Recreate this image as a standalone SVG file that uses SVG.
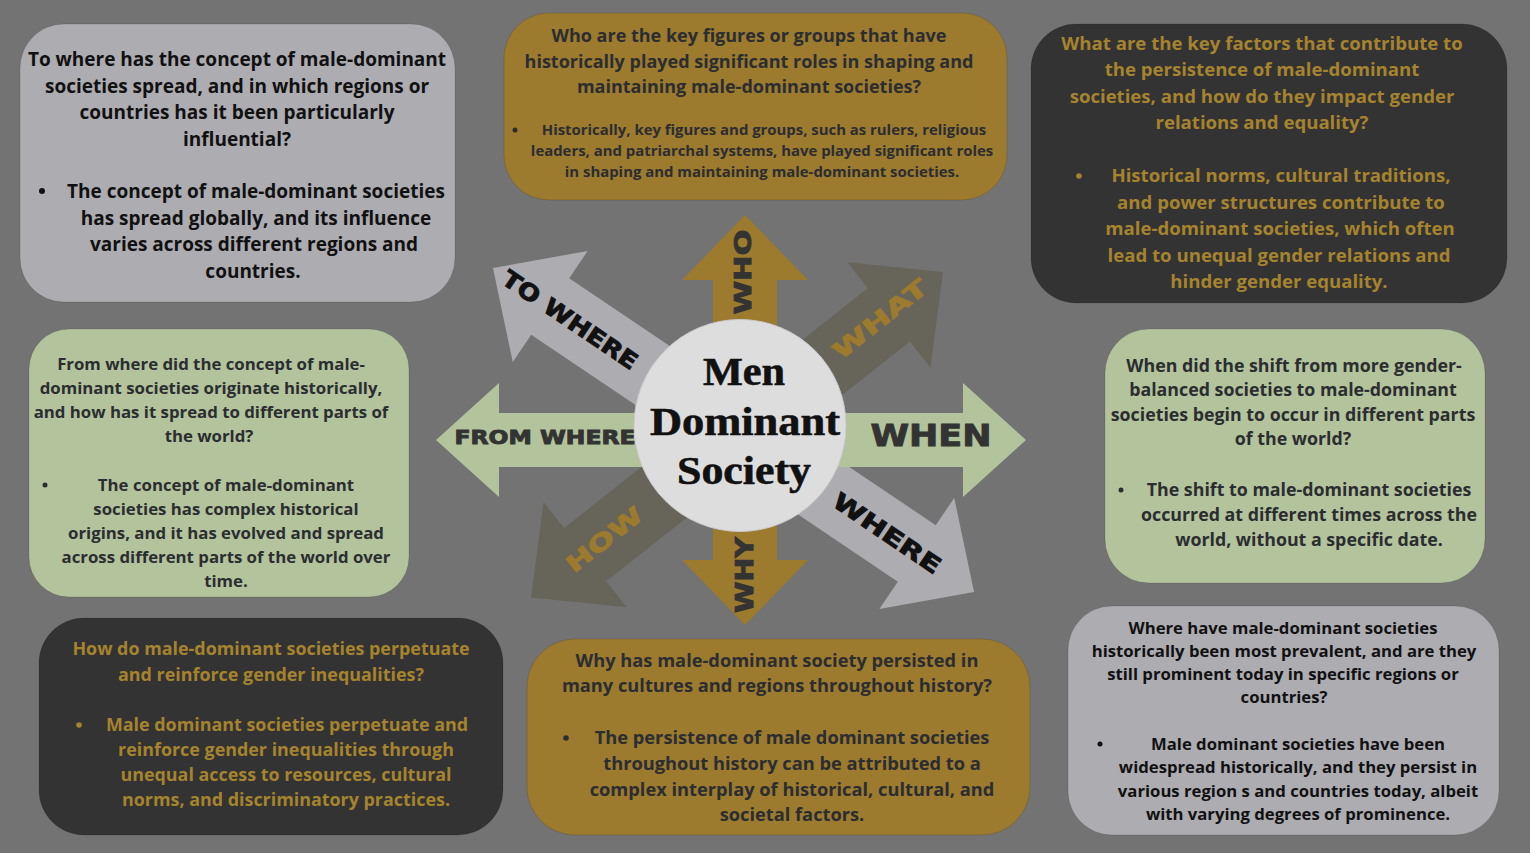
<svg xmlns="http://www.w3.org/2000/svg" width="1530" height="853" viewBox="0 0 1530 853">
  <style>
    .bg { fill: #737373; }
    .box { stroke: rgba(0,0,0,0.12); stroke-width: 1; }
    .lilac { fill: #adacb1; }
    .gold { fill: #9c7a2e; }
    .dark { fill: #333333; }
    .sage { fill: #b3c39b; }
    .olive { fill: #67645a; }
    .t { font-family: "Open Sans", "Liberation Sans", sans-serif; font-weight: 700; text-anchor: middle; }
    .tk { fill: #111111; }
    .td { fill: #2b2d31; }
    .tg { fill: #a5832f; }
    .lab { font-family: "DejaVu Sans", "Liberation Sans", sans-serif; font-weight: 700; text-anchor: middle; stroke-width: 0.9; }
    .hub { font-family: "Liberation Serif", "DejaVu Serif", serif; font-weight: 700; text-anchor: middle; fill: #111111; stroke: #111111; stroke-width: 0.6; font-size: 40px; }
  </style>

  <rect class="bg" x="0" y="0" width="1530" height="853"/>

  <!-- connectors: double-headed arrows radiating from the hub -->
  <g id="connectors">
    <!-- to where / where diagonal -->
    <g transform="translate(733.5 430) rotate(33.96)">
      <path class="lilac" d="M -290 0 L -221 -67 L -221 -34 L 221 -34 L 221 -67 L 290 0 L 221 67 L 221 34 L -221 34 L -221 67 Z"/>
      <text class="lab" x="-197" y="8" font-size="23" fill="#111111" stroke="#111111" textLength="158" lengthAdjust="spacingAndGlyphs">TO WHERE</text>
      <text class="lab" x="185" y="8" font-size="23" fill="#111111" stroke="#111111" textLength="125" lengthAdjust="spacingAndGlyphs">WHERE</text>
    </g>
    <!-- what / how diagonal -->
    <g transform="translate(737 434.75) rotate(-38.3)">
      <path class="olive" d="M -262.5 0 L -193.5 -67 L -193.5 -34 L 193.5 -34 L 193.5 -67 L 262.5 0 L 193.5 67 L 193.5 34 L -193.5 34 L -193.5 67 Z"/>
      <text class="lab" x="184" y="6" font-size="23" fill="#9c7a2e" stroke="#9c7a2e" textLength="113" lengthAdjust="spacingAndGlyphs">WHAT</text>
      <text class="lab" x="-169" y="8" font-size="23" fill="#9c7a2e" stroke="#9c7a2e" textLength="90" lengthAdjust="spacingAndGlyphs">HOW</text>
    </g>
    <!-- from where / when horizontal -->
    <g transform="translate(731 440)">
      <path class="sage" d="M -295 0 L -232 -57 L -232 -27 L 232 -27 L 232 -57 L 295 0 L 232 57 L 232 27 L -232 27 L -232 57 Z"/>
      <text class="lab" x="-186" y="4" font-size="19" fill="#333333" stroke="#333333" textLength="181" lengthAdjust="spacingAndGlyphs">FROM WHERE</text>
      <text class="lab" x="200" y="6" font-size="30" fill="#333333" stroke="#333333" textLength="121" lengthAdjust="spacingAndGlyphs">WHEN</text>
    </g>
    <!-- who / why vertical -->
    <g transform="translate(745 420) rotate(90)">
      <path class="gold" d="M -205 0 L -140 -63 L -140 -32 L 140 -32 L 140 -63 L 205 0 L 140 63 L 140 32 L -140 32 L -140 63 Z"/>
    </g>
    <text class="lab" transform="translate(743 272) rotate(-90)" x="0" y="8" font-size="23" fill="#333333" stroke="#333333" textLength="85" lengthAdjust="spacingAndGlyphs">WHO</text>
    <text class="lab" transform="translate(745 575) rotate(-90)" x="0" y="8" font-size="24" fill="#333333" stroke="#333333" textLength="76" lengthAdjust="spacingAndGlyphs">WHY</text>
  </g>

  <!-- central hub -->
  <g id="hub">
    <circle cx="740" cy="425.5" r="106" fill="#dddddd" stroke="#c9c9c9" stroke-width="1"/>
    <text class="hub" x="744" y="385" textLength="82" lengthAdjust="spacingAndGlyphs">Men</text>
    <text class="hub" x="745" y="435" textLength="190" lengthAdjust="spacingAndGlyphs">Dominant</text>
    <text class="hub" x="744" y="484" textLength="134" lengthAdjust="spacingAndGlyphs">Society</text>
  </g>

  <!-- to where -->
  <g id="node-to-where">
    <rect class="box lilac" x="20" y="24" width="435" height="278" rx="44"/>
    <g class="t tk" font-size="19">
      <text x="237" y="66">To where has the concept of male-dominant</text>
      <text x="237" y="93">societies spread, and in which regions or</text>
      <text x="237" y="119">countries has it been particularly</text>
      <text x="237" y="146">influential?</text>
      <text x="256" y="198">The concept of male-dominant societies</text>
      <text x="256" y="225">has spread globally, and its influence</text>
      <text x="254" y="251">varies across different regions and</text>
      <text x="253" y="278">countries.</text>
    </g>
    <circle cx="42" cy="191" r="3" fill="#111111"/>
  </g>

  <!-- who -->
  <g id="node-who">
    <rect class="box gold" x="504" y="13" width="503" height="187" rx="45"/>
    <g class="t td" font-size="18">
      <text x="749" y="42">Who are the key figures or groups that have</text>
      <text x="749" y="68">historically played significant roles in shaping and</text>
      <text x="749" y="93">maintaining male-dominant societies?</text>
    </g>
    <g class="t td" font-size="14.9">
      <text x="764" y="135">Historically, key figures and groups, such as rulers, religious</text>
      <text x="762" y="156">leaders, and patriarchal systems, have played significant roles</text>
      <text x="762" y="177">in shaping and maintaining male-dominant societies.</text>
    </g>
    <circle cx="515" cy="130" r="2.5" fill="#2b2d31"/>
  </g>

  <!-- what -->
  <g id="node-what">
    <rect class="box dark" x="1031" y="24" width="476" height="279" rx="45"/>
    <g class="t tg" font-size="18.6">
      <text x="1262" y="50">What are the key factors that contribute to</text>
      <text x="1262" y="76">the persistence of male-dominant</text>
      <text x="1262" y="103">societies, and how do they impact gender</text>
      <text x="1262" y="129">relations and equality?</text>
      <text x="1281" y="182">Historical norms, cultural traditions,</text>
      <text x="1281" y="209">and power structures contribute to</text>
      <text x="1280" y="235">male-dominant societies, which often</text>
      <text x="1279" y="262">lead to unequal gender relations and</text>
      <text x="1279" y="288">hinder gender equality.</text>
    </g>
    <circle cx="1079" cy="176" r="2.8" fill="#a5832f"/>
  </g>

  <!-- from where -->
  <g id="node-from-where">
    <rect class="box sage" x="29" y="329" width="380" height="268" rx="40"/>
    <g class="t td" font-size="16.8">
      <text x="211" y="370">From where did the concept of male-</text>
      <text x="211" y="394">dominant societies originate historically,</text>
      <text x="211" y="418">and how has it spread to different parts of</text>
      <text x="209" y="442">the world?</text>
      <text x="226" y="491">The concept of male-dominant</text>
      <text x="226" y="515">societies has complex historical</text>
      <text x="226" y="539">origins, and it has evolved and spread</text>
      <text x="226" y="563">across different parts of the world over</text>
      <text x="226" y="587">time.</text>
    </g>
    <circle cx="45" cy="485" r="2.5" fill="#2b2d31"/>
  </g>

  <!-- when -->
  <g id="node-when">
    <rect class="box sage" x="1105" y="329" width="380" height="254" rx="44"/>
    <g class="t td" font-size="17.8">
      <text x="1294" y="372">When did the shift from more gender-</text>
      <text x="1293" y="396">balanced societies to male-dominant</text>
      <text x="1293" y="421">societies begin to occur in different parts</text>
      <text x="1293" y="445">of the world?</text>
      <text x="1309" y="496">The shift to male-dominant societies</text>
      <text x="1309" y="521">occurred at different times across the</text>
      <text x="1309" y="546">world, without a specific date.</text>
    </g>
    <circle cx="1121" cy="490" r="2.5" fill="#2b2d31"/>
  </g>

  <!-- how -->
  <g id="node-how">
    <rect class="box dark" x="39" y="618" width="464" height="217" rx="45"/>
    <g class="t tg" font-size="17.9">
      <text x="271" y="655">How do male-dominant societies perpetuate</text>
      <text x="271" y="681">and reinforce gender inequalities?</text>
      <text x="287" y="731">Male dominant societies perpetuate and</text>
      <text x="286" y="756">reinforce gender inequalities through</text>
      <text x="286" y="781">unequal access to resources, cultural</text>
      <text x="286" y="806">norms, and discriminatory practices.</text>
    </g>
    <circle cx="79" cy="725" r="2.8" fill="#a5832f"/>
  </g>

  <!-- why -->
  <g id="node-why">
    <rect class="box gold" x="527" y="639" width="503" height="196" rx="48"/>
    <g class="t td" font-size="18.25">
      <text x="777" y="667">Why has male-dominant society persisted in</text>
      <text x="777" y="692">many cultures and regions throughout history?</text>
      <text x="792" y="744">The persistence of male dominant societies</text>
      <text x="792" y="770">throughout history can be attributed to a</text>
      <text x="792" y="796">complex interplay of historical, cultural, and</text>
      <text x="792" y="821">societal factors.</text>
    </g>
    <circle cx="566" cy="738" r="2.8" fill="#2b2d31"/>
  </g>

  <!-- where -->
  <g id="node-where">
    <rect class="box lilac" x="1068" y="606" width="431" height="229" rx="44"/>
    <g class="t tk" font-size="16.7">
      <text x="1283" y="634">Where have male-dominant societies</text>
      <text x="1284" y="657">historically been most prevalent, and are they</text>
      <text x="1283" y="680">still prominent today in specific regions or</text>
      <text x="1284" y="703">countries?</text>
      <text x="1298" y="750">Male dominant societies have been</text>
      <text x="1298" y="773">widespread historically, and they persist in</text>
      <text x="1298" y="797">various region s and countries today, albeit</text>
      <text x="1298" y="820">with varying degrees of prominence.</text>
    </g>
    <circle cx="1100" cy="744" r="2.5" fill="#111111"/>
  </g>
</svg>
